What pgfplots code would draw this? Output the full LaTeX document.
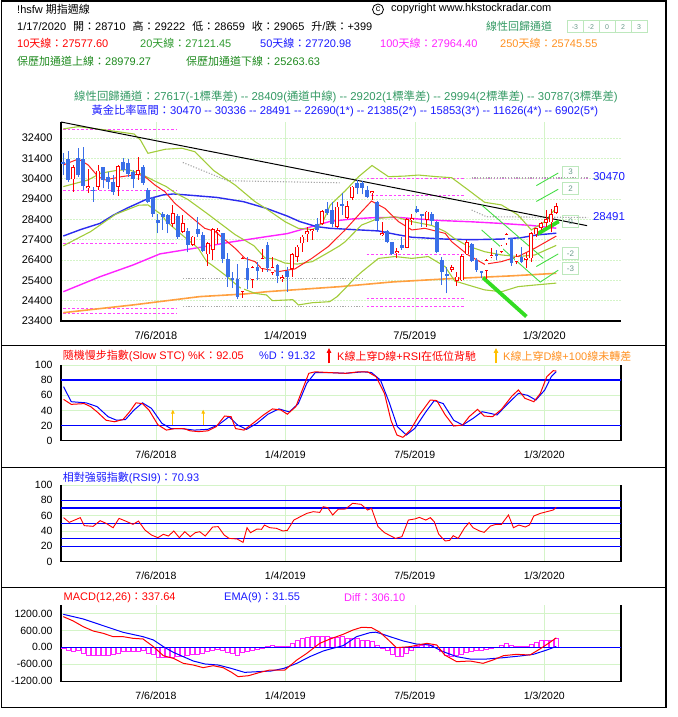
\documentclass[border=0pt]{standalone}
\usepackage{fontspec}
\setmainfont{Liberation Sans}
\newfontfamily\cjfont{Noto Sans CJK TC}
\newcommand{\cj}[1]{{\cjfont #1}}
\usepackage{pgfplots}
\pgfplotsset{compat=1.18}
\usepackage{pgfplotstable}
\usetikzlibrary{arrows.meta}

\definecolor{cred}{HTML}{FF0000}
\definecolor{cblue}{HTML}{3A6FE8}
\definecolor{maten}{HTML}{FF2020}
\definecolor{olivel}{HTML}{A2CC3A}
\definecolor{ma50}{HTML}{2B2BEE}
\definecolor{magen}{HTML}{FF22FF}
\definecolor{orng}{HTML}{FFA040}
\definecolor{gridg}{HTML}{D4F4C8}
\definecolor{tgreen}{HTML}{2E9A2E}
\definecolor{dgreen}{HTML}{1E8A1E}
\definecolor{tteal}{HTML}{349A64}
\definecolor{tblue}{HTML}{1A1AFF}
\definecolor{lgreen}{HTML}{44DD44}
\definecolor{tgreenthick}{HTML}{33DD22}
\definecolor{boxg}{HTML}{BDE8BD}
\definecolor{boxt}{HTML}{6A9A8A}
\definecolor{gold}{HTML}{FFC000}
\definecolor{ttorange}{HTML}{FF9020}
\definecolor{dotgray}{HTML}{A8A8A8}
\definecolor{fibmag}{HTML}{FF44FF}

\pgfplotstableread{
k O H L C
2 30370 31080 29760 30960
5 29930 30860 29710 30040
7 29980 31080 29850 30800
11 30010 31080 29570 31040
15 30580 31490 30340 30830
22 28160 29110 28040 28700
24 27800 28620 27710 28210
26 27140 27600 27100 27550
29 26680 27300 26120 27220
30 26890 27990 26400 27930
31 27760 27990 27200 27880
36 24840 26570 24550 26480
38 25420 26120 25000 26070
40 25990 26940 25830 26480
42 25750 26570 25660 26070
44 25450 25660 25340 25550
46 25960 26730 25580 26680
47 26570 27140 26320 27060
48 27220 27630 26810 27550
49 27660 28040 27300 27830
50 27810 27930 27390 27910
52 28160 28860 28130 28810
55 28040 29270 27990 29030
57 28480 29300 28420 29070
58 29440 30060 29350 30010
62 29680 29810 29350 29800
64 27610 28250 27600 27710
67 26740 26980 26480 26840
69 27010 28450 26980 28420
70 28350 28650 28120 28450
73 28370 28800 28040 28780
78 25910 26160 25830 26070
79 25370 25830 25140 25580
80 25400 26680 25370 26610
81 26680 27390 26650 27300
85 25860 26450 25480 26400
86 26530 26980 26480 26650
88 26780 27140 26730 27110
89 27220 27710 27140 27660
91 26290 26680 26190 26570
93 26420 26730 25990 26520
94 26480 27800 26320 27710
95 27660 27990 27550 27960
96 27990 28250 27880 28210
97 28210 28860 28040 28420
98 28250 28910 27800 28666
99 28710 29222 28659 29065
}\upc

\pgfplotstableread{
k O H L C
0 31210 31650 30580 31110
1 31350 31780 30250 30340
3 31400 31930 30500 30600
4 31350 31950 29850 30060
6 29850 30010 29270 29800
8 30960 31000 29930 30340
9 30500 30750 29890 30260
10 30260 30580 29600 29730
12 31240 31440 30710 30830
13 31150 31350 30500 30640
14 30750 30830 29930 30370
16 30990 31050 30090 30170
17 29850 29930 29190 29240
18 29430 29520 28530 28660
19 28370 28650 27710 28210
20 28660 28750 27880 28530
21 28610 28650 27710 28160
23 28580 28650 27430 27550
25 27830 27960 26780 27140
27 27930 28530 27550 27660
28 27630 27760 26780 26840
32 27710 27750 26240 26450
33 26450 26730 25090 25580
34 25500 25830 25040 25420
35 25450 26190 24480 24600
37 25990 26570 24970 25420
39 26070 26320 25420 25860
41 27140 27300 25830 25990
43 26150 26190 25250 25630
45 25860 26070 24840 25580
51 28160 28450 27800 27880
53 28910 29270 28620 28700
54 28860 29240 28040 28160
56 29140 29680 28620 29040
59 30170 30340 29630 29930
60 30170 30290 29630 29930
61 29850 30060 29440 29520
63 29270 29300 27880 28320
65 27830 27880 27220 27270
66 27270 27300 26650 26680
68 27140 27550 26890 27010
71 28910 29070 28700 28750
72 28680 28680 28040 28560
74 28650 28750 28120 28320
75 28290 28320 26730 26780
76 26400 26570 25170 25830
77 25700 26070 24760 25600
82 27170 27220 26320 26350
83 26400 26480 25830 25910
84 25860 25860 25500 25760
87 26700 26890 26400 26600
90 27470 27500 26120 26240
92 26570 27060 26240 26290
}\dnc

\pgfplotsset{
  hk/.style={
    scale only axis, anchor=south west, width=560pt, clip=false,
    xmin=-0.46, xmax=112,
    axis line style={draw=none},
    tick style={draw=none},
    scaled ticks=false,
    xtick={18.6,44.6,70.6,96.6},
    xticklabels={7/6/2018,1/4/2019,7/5/2019,1/3/2020},
    xmajorgrids, ymajorgrids,
    grid style={gridg, line width=0.7pt},
    /pgf/number format/assume math mode=true,
    /pgf/number format/1000 sep={},
    tick label style={font=\fontsize{10.5}{12}\selectfont},
    xticklabel style={yshift=-7pt},
    yticklabel style={xshift=-5pt},
  },
  hline/.style={forget plot, mark=none},
}

\begin{document}
\begin{tikzpicture}[x=1pt,y=1pt,font=\fontsize{11}{13}\selectfont]
\path[use as bounding box] (0,0) rectangle (677,717);
\draw[line width=1.2pt] (1.5,9.3) rectangle (666,716);
\draw[line width=1.2pt] (1.5,371.5) -- (666,371.5);
\draw[line width=1.2pt] (1.5,249.3) -- (666,249.3);
\draw[line width=1.2pt] (1.5,129.3) -- (666,129.3);

% ---------- header ----------
\node[anchor=west, inner sep=0] at (17,708) {!hsfw \cj{期指週線}};
\node[circle, draw, line width=0.8pt, inner sep=0pt, minimum size=11pt, font=\fontsize{9}{10}\selectfont] at (378,707.5) {c};
\node[anchor=west, inner sep=0] at (391,708) {copyright www.hkstockradar.com};
\node[anchor=west, inner sep=0] at (17,691) {1/17/2020\hspace{7pt}\cj{開：}28710\hspace{7pt}\cj{高：}29222\hspace{7pt}\cj{低：}28659\hspace{7pt}\cj{收：}29065\hspace{7pt}\cj{升}/\cj{跌：}+399};
\node[anchor=west, inner sep=0, text=tteal] at (486,691) {\cj{線性回歸通道}};
\foreach \i/\t in {0/-3,1/-2,2/0,3/2,4/3}{
  \draw[boxg, line width=0.8pt] (567+16*\i,684.3) rectangle (583+16*\i,696.3);
  \node[text=boxt, font=\fontsize{7}{8}\selectfont, inner sep=0] at (575+16*\i,690.3) {\t};
}
\node[anchor=west, inner sep=0, text=cred] at (17,673.3) {10\cj{天線：}27577.60};
\node[anchor=west, inner sep=0, text=tgreen] at (140,673.3) {20\cj{天線：}27121.45};
\node[anchor=west, inner sep=0, text=tblue] at (260,673.3) {50\cj{天線：}27720.98};
\node[anchor=west, inner sep=0, text=magen] at (380,673.3) {100\cj{天線：}27964.40};
\node[anchor=west, inner sep=0, text=ttorange] at (500,673.3) {250\cj{天線：}25745.55};
\node[anchor=west, inner sep=0, text=dgreen] at (17,656) {\cj{保歷加通道上線：}28979.27};
\node[anchor=west, inner sep=0, text=dgreen] at (186,656) {\cj{保歷加通道下線：}25263.63};
\node[inner sep=0, text=tteal, font=\fontsize{11.4}{13}\selectfont] at (346,620.3) {\cj{線性回歸通道：}27617(-1\cj{標準差}) -{}- 28409(\cj{通道中線}) -{}- 29202(1\cj{標準差}) -{}- 29994(2\cj{標準差}) -{}- 30787(3\cj{標準差})};
\node[inner sep=0, text=tblue, font=\fontsize{11.2}{13}\selectfont] at (345,606) {\cj{黃金比率區間：}30470 -{}- 30336 -{}- 28491 -{}- 22690(1*) -{}- 21385(2*) -{}- 15853(3*) -{}- 11626(4*) -{}- 6902(5*)};

% ---------- main price panel ----------
\begin{axis}[hk, at={(61pt,396pt)}, height=199pt,
  ymin=23400, ymax=33190, ytick={23400,24400,...,32400},
  tick label style={font=\fontsize{11}{13}\selectfont},
  every axis y grid/.append style={dash pattern=on 1.5pt off 1.5pt}]
\draw[black, line width=1.2pt] (rel axis cs:0,1) -- (rel axis cs:0,0) -- (rel axis cs:1,0);
% fib / golden dashed levels
\addplot[hline, fibmag, line width=0.9pt, dash pattern=on 2.5pt off 2pt] coordinates {(0,32800)(22.8,32800)};
\addplot[hline, fibmag, line width=0.9pt, dash pattern=on 2.5pt off 2pt] coordinates {(0,29845)(22.8,29845)};
\addplot[hline, fibmag, line width=0.9pt, dash pattern=on 2.5pt off 2pt] coordinates {(0,27221)(22.8,27221)};
\addplot[hline, fibmag, line width=0.9pt, dash pattern=on 2.5pt off 2pt] coordinates {(0,24023)(22.8,24023)};
\addplot[hline, fibmag, line width=0.9pt, dash pattern=on 2.5pt off 2pt] coordinates {(0,23777)(22.8,23777)};
\addplot[hline, fibmag, line width=0.9pt, dash pattern=on 2.5pt off 2pt] coordinates {(60.9,30420)(80.7,30420)};
\addplot[hline, fibmag, line width=0.9pt, dash pattern=on 2.5pt off 2pt] coordinates {(60.9,29600)(80.7,29600)};
\addplot[hline, fibmag, line width=0.9pt, dash pattern=on 2.5pt off 2pt] coordinates {(60.9,26650)(80.7,26650)};
\addplot[hline, fibmag, line width=0.9pt, dash pattern=on 2.5pt off 2pt] coordinates {(60.9,24520)(80.7,24520)};
\addplot[hline, fibmag, line width=0.9pt, dash pattern=on 2.5pt off 2pt] coordinates {(60.9,24140)(80.7,24140)};
% gray dotted levels
\addplot[hline, dotgray, line width=1.1pt, dash pattern=on 1.2pt off 1.6pt] coordinates {(24,31200)(33,30300)(55.5,30200)};
\addplot[hline, dotgray, line width=1.1pt, dash pattern=on 1.2pt off 1.6pt] coordinates {(24,25500)(60,25500)};
\addplot[hline, dotgray, line width=1.1pt, dash pattern=on 1.2pt off 1.6pt] coordinates {(24,24105)(60,24105)};
\addplot[hline, dotgray, line width=1.1pt, dash pattern=on 1.2pt off 1.6pt] coordinates {(82,30470)(105.4,30470)};
\addplot[hline, fibmag!50!dotgray, line width=1.1pt, dash pattern=on 1.2pt off 1.6pt] coordinates {(82,30400)(105.4,30400)};
\addplot[hline, dotgray, line width=1.1pt, dash pattern=on 1.2pt off 1.6pt] coordinates {(82,28860)(85,28530)(105.4,28491)};
% moving averages and bands
\addplot[hline, orng, line width=1.6pt] coordinates {(0,23810)(14,24190)(27.4,24600)(36.5,24730)(40.8,24840)(55.6,25090)(66,25320)(76.7,25470)(90,25620)(99,25746)};
\addplot[hline, magen, line width=1.4pt] coordinates {(0,24840)(7.4,25580)(14,26155)(19.4,26700)(27.4,27020)(34.1,27300)(40.8,27550)(45,27700)(50,28050)(53.6,28300)(58,28420)(62,28480)(67,28500)(75,28350)(82,28280)(88,28200)(94,28100)(99,27964)};
\addplot[hline, ma50, line width=1.4pt] coordinates {(0,27580)(3.5,27900)(7.4,28205)(10,28600)(12.7,28940)(16.7,29386)(20,29600)(22.1,29650)(24.8,29600)(30.8,29480)(36.2,29270)(40.8,28940)(44.9,28570)(47.5,28290)(50.9,28040)(53.6,27960)(58,27900)(63.3,27830)(67,27650)(70,27520)(76.7,27430)(82,27400)(88,27430)(92,27500)(95,27630)(99,27721)};
\addplot[hline, olivel, line width=1.1pt] coordinates {(0,32850)(3,32960)(8.4,32800)(14.2,32600)(15.5,32300)(17,31650)(20.5,31850)(23.8,31900)(26.4,31730)(30.2,30800)(34.5,30090)(38.5,29270)(40.6,28950)(44.5,28290)(47.2,27960)(50,27900)(52,28200)(53.6,29100)(56.6,29800)(59.3,30500)(62,31050)(65.3,30500)(68.6,30530)(71.3,30580)(75,30500)(78,30450)(81.3,29850)(84.6,29240)(88,29110)(91.3,28620)(94,27880)(96.7,28290)(99,28979)};
\addplot[hline, olivel, line width=1.1pt] coordinates {(0,30010)(5,30340)(7.5,30670)(10.5,30800)(13,30850)(15.5,30650)(18,30330)(20.7,30010)(22.5,29700)(25,29380)(28.6,28740)(31.8,28150)(34.5,27650)(38.3,27100)(40.5,26500)(42.5,26450)(44.5,26250)(47,26200)(50,26320)(53.5,26810)(55.5,27100)(56.6,27300)(59.9,28120)(63.3,28450)(66.6,28530)(70,28290)(74,28100)(76.7,27800)(78.6,27450)(81.3,27080)(84.6,26810)(88,26650)(91.3,26570)(94.7,26650)(99,27121)};
\addplot[hline, olivel, line width=1.1pt] coordinates {(0,27100)(5.5,27800)(10.5,28650)(15.2,29100)(17,29110)(19.8,28620)(20.7,28300)(24,27600)(27.1,26980)(28.8,26320)(29.8,26160)(32.5,25660)(35.4,25050)(38.5,24760)(40.8,24680)(42,24400)(46.1,24450)(47.2,24190)(50,24300)(53.5,24350)(55,24600)(56.6,25000)(58.5,25500)(60,25830)(63.3,26480)(66.6,26570)(70,26480)(73.3,26570)(76.7,26070)(78.6,25370)(81.3,25170)(84.6,24930)(88,24840)(91.3,25090)(94.7,25170)(99,25264)};
\addplot[hline, maten, line width=1pt] coordinates {(0,31075)(3,31370)(5,31075)(7,30500)(8.4,30340)(11.7,30500)(15.1,30620)(16.4,30500)(18.4,30090)(20.4,29760)(22.4,29190)(24.4,28780)(26.4,28370)(28.4,27960)(30.5,27800)(32.5,27390)(34.5,26980)(36.5,26480)(38.5,26320)(39.8,25990)(43.2,25830)(46.5,25960)(49.9,26480)(53.2,27060)(56.6,27880)(59.9,28780)(61.9,29300)(64.6,28940)(67.3,28290)(70,27880)(72.6,27960)(76.7,27710)(78,27300)(81.3,26650)(84.6,26190)(88,26320)(91.3,26570)(94.7,26980)(99,27578)};
% trend line
\addplot[hline, black, line width=1pt] coordinates {(-0.46,33190)(105.2,28090)};
% regression channel lines
\addplot[hline, lgreen, line width=0.9pt] coordinates {(84,29110)(96.4,26480)};
\addplot[hline, lgreen, line width=0.9pt] coordinates {(84,27880)(95.7,25330)};
\addplot[hline, lgreen, line width=0.9pt] coordinates {(95,30060)(99.4,30680)};
\addplot[hline, lgreen, line width=0.9pt] coordinates {(95,29280)(99.4,29880)};
\addplot[hline, lgreen, line width=0.9pt] coordinates {(95,26080)(99.4,26700)};
\addplot[hline, lgreen, line width=0.9pt] coordinates {(95.7,25300)(99.4,25900)};
\addplot[hline, tgreenthick, line width=3.8pt] coordinates {(84.3,25530)(93,23620)};
\addplot[hline, tgreenthick, line width=3.8pt] coordinates {(95.2,27680)(99.5,28300)};
% candles
\addplot[hline, cblue, line width=0.9pt, quiver={u=0,v=\thisrow{H}-\thisrow{L}}] table[x=k,y=L]{\dnc};
\addplot[hline, cblue, line width=3.8pt, quiver={u=0,v=\thisrow{C}-\thisrow{O}}] table[x=k,y=O]{\dnc};
\addplot[hline, cred, line width=0.9pt, quiver={u=0,v=\thisrow{H}-\thisrow{L}}] table[x=k,y=L]{\upc};
\addplot[hline, cred, line width=3.8pt, quiver={u=0,v=\thisrow{C}-\thisrow{O}}] table[x=k,y=O]{\upc};
\addplot[hline, white, line width=2.2pt, shorten >=0.8pt, shorten <=0.8pt, quiver={u=0,v=\thisrow{C}-\thisrow{O}}] table[x=k,y=O]{\upc};
\end{axis}

% channel boxes and labels
\foreach \yy/\t in {544.8/3,528.2/2,495.7/0,463.7/-2,448.7/-3}{
  \draw[boxg, line width=0.8pt] (562.7,\yy-6) rectangle (578.3,\yy+6);
  \node[text=boxt, font=\fontsize{8}{9}\selectfont, inner sep=0] at (570.5,\yy) {\t};
}
\node[text=tblue, inner sep=0, font=\fontsize{11.5}{13}\selectfont] at (609,540.3) {30470};
\node[text=tblue, inner sep=0, font=\fontsize{11.5}{13}\selectfont] at (609,500.3) {28491};

% ---------- stochastic ----------
\node[anchor=west, inner sep=0, text=cred] at (62.7,361) {\cj{隨機慢步指數}(Slow STC) \%K\cj{：}92.05};
\node[anchor=west, inner sep=0, text=tblue] at (259,361) {\%D\cj{：}91.32};
\draw[cred, line width=1.1pt, -{Triangle[length=5pt,width=4.5pt]}] (329,353.5) -- (329,369);
\node[anchor=west, inner sep=0, text=cred] at (337,361) {K\cj{線上穿}D\cj{線}+RSI\cj{在低位背馳}};
\draw[gold, line width=1.1pt, -{Triangle[length=5pt,width=4.5pt]}] (496,353.5) -- (496,369);
\node[anchor=west, inner sep=0, text=ttorange] at (503,361) {K\cj{線上穿}D\cj{線}+100\cj{線未轉差}};
\begin{axis}[hk, at={(61pt,276.3pt)}, height=75.7pt, ymin=0, ymax=100, ytick={0,20,...,100}]
\draw[black, line width=1.2pt] (rel axis cs:0,1) -- (rel axis cs:0,0) -- (rel axis cs:1,0) -- (rel axis cs:1,1);
\addplot[hline, blue, line width=1.3pt] coordinates {(-0.46,20)(112,20)};
\addplot[hline, blue, line width=1.3pt] coordinates {(-0.46,80)(112,80)};
\addplot[hline, gold, line width=1pt, -{Triangle[length=4pt,width=3.5pt]}] coordinates {(22,20.5)(22,41)};
\addplot[hline, gold, line width=1pt, -{Triangle[length=4pt,width=3.5pt]}] coordinates {(28.1,20.5)(28.1,41)};
\addplot[hline, blue, line width=1pt] coordinates {(0.05,71.4)(1.6,51.5)(4.6,50)(6.8,45)(9,31.7)(10.7,27)(12.5,28)(14.2,40.5)(15.9,50)(17.7,42.7)(19.8,23)(21.6,16)(23.7,16)(26.3,14)(29,15)(31.1,20.7)(33.3,31.7)(35,20.7)(36.8,15)(38.9,23)(41.1,35)(43.3,42)(45.4,38)(47.2,49)(48.9,75.8)(50.6,90)(53.3,90)(56.7,89)(60.2,91)(61.9,90)(63.7,80)(65.4,51.5)(67.1,18.5)(68.9,7.5)(70.6,16.3)(72.8,38)(74.5,53)(76.3,49)(78.4,27)(80.2,20.7)(82.3,29.5)(84.1,38.3)(85.8,36)(87.1,34)(89.3,49)(91.4,62.5)(93.2,60)(94.9,53.7)(96.7,67)(98,84.6)(99,91.32)};
\addplot[hline, cred, line width=1pt] coordinates {(0.05,54.6)(1.6,48)(4.2,49)(5.5,45)(6.8,38)(8.6,27)(10.3,25)(12,28)(13.3,38)(14.6,50)(15.9,49)(17.2,40.5)(19,21)(20.7,14)(22.4,16)(24.2,16)(25.5,13)(27.2,12)(29,13)(30.7,18.5)(32.4,32.6)(33.7,31.7)(34.6,16)(36.3,14)(38.5,25)(40.2,34)(42,42)(43.7,40.5)(45,35)(46.7,45)(48,67)(49.3,89)(50.6,91)(53.3,90)(56.7,89)(59.3,91)(61.1,91)(62.8,84.6)(64.5,62.5)(65.8,27)(67,7.5)(68.2,4.4)(69.7,14)(71.5,34)(73.7,53.7)(75,53)(76.7,34)(78.4,19.4)(80.2,20.7)(81.5,31.7)(83.2,41.4)(84.5,32.6)(86.2,31.7)(88,41.4)(90.1,59)(91.4,67)(92.7,56)(94.5,51.5)(95.8,62.5)(97.1,84.6)(98.4,92.5)(99,92.05)};
\end{axis}

% ---------- RSI ----------
\node[anchor=west, inner sep=0, text=tblue] at (62.7,239.3) {\cj{相對強弱指數}(RSI9)\cj{：}70.93};
\begin{axis}[hk, at={(61pt,155.3pt)}, height=76.7pt, ymin=0, ymax=100, ytick={0,20,...,100}]
\draw[black, line width=1.2pt] (rel axis cs:0,1) -- (rel axis cs:0,0) -- (rel axis cs:1,0) -- (rel axis cs:1,1);
\addplot[hline, blue, line width=1.3pt] coordinates {(-0.46,20)(112,20)};
\addplot[hline, blue, line width=1.3pt] coordinates {(-0.46,30)(112,30)};
\addplot[hline, blue, line width=1.3pt] coordinates {(-0.46,50)(112,50)};
\addplot[hline, blue, line width=1.3pt] coordinates {(-0.46,70)(112,70)};
\addplot[hline, blue, line width=1.3pt] coordinates {(-0.46,80)(112,80)};
\addplot[hline, cred, line width=0.9pt] coordinates {(0.05,57.4)(1.2,51.3)(3.4,57.4)(4.2,47)(6,46.1)(7.4,53.5)(8.6,50)(10,44.3)(11.2,56.5)(12.5,53)(14,48.7)(15.1,53)(16.4,41.3)(17.7,34.8)(19,31.3)(20.1,35.7)(21.1,33.5)(22.2,40)(23.3,31.3)(24.4,39.1)(25.5,32.6)(26.5,37.8)(27.4,39.1)(28.5,33.5)(30,45.2)(31.1,45.7)(32.3,34.8)(33.3,30.4)(34.9,29.6)(36.1,25.2)(36.9,44.3)(37.6,37.8)(38.9,42.6)(39.8,42.2)(40.4,47.8)(41.5,44.3)(42.8,43.5)(44.1,40)(45,40.9)(46.3,54.3)(47.6,58.7)(48.9,63)(50.2,65.2)(51.5,64.3)(52.2,71.7)(53.1,70.4)(54.1,60.9)(55.2,68.3)(56.7,68.7)(58.1,76.1)(59.8,74.8)(61.1,67.4)(61.9,69.6)(63.2,45.7)(64.5,37.8)(65.8,33.5)(66.7,30.4)(68,32.6)(69.3,54.3)(70.6,55.7)(71.5,57.8)(72.8,54.3)(73.7,57.4)(74.5,52.2)(75.4,35.7)(76.7,27)(77.6,27.8)(78.3,33.9)(79.3,30.4)(80.6,44.3)(81.5,50.9)(82.3,44.3)(83.6,40)(84.5,38.3)(85.8,46.5)(86.9,48.7)(88,48.7)(89.4,60.9)(90.4,44.3)(91.5,47.8)(92.8,45.2)(93.6,47.8)(94.5,59.6)(95.8,63)(97.1,65.2)(98.4,67.4)(99,70.9)};
\end{axis}

% ---------- MACD ----------
\node[anchor=west, inner sep=0, text=cred] at (63.5,119.7) {MACD(12,26)\cj{：}337.64};
\node[anchor=west, inner sep=0, text=tblue] at (224,119.7) {EMA(9)\cj{：}31.55};
\node[anchor=west, inner sep=0, text=magen] at (344,119.7) {Diff\cj{：}306.10};
\begin{axis}[hk, at={(61pt,35.3pt)}, height=76.7pt, ymin=-1226, ymax=1510,
  ytick={-1200,-600,0,600,1200},
  yticklabel style={/pgf/number format/.cd, fixed, fixed zerofill, precision=2, 1000 sep={}}]
\draw[black, line width=1.2pt] (rel axis cs:0,1) -- (rel axis cs:0,0) -- (rel axis cs:1,0) -- (rel axis cs:1,1);
\addplot[hline, ybar, bar width=0.8, draw=magen, fill=none, line width=0.8pt] coordinates {
(0,-36)(1,-95)(2,-131)(3,-95)(4,-214)(5,-274)(6,-298)(7,-274)(8,-274)(9,-274)(10,-250)(11,-214)(12,-155)(13,-155)(14,-131)(15,-131)(16,-95)(17,-214)(18,-250)(19,-357)(20,-357)(21,-357)(22,-357)(23,-333)(24,-309)(25,-274)(26,-250)(27,-250)(28,-214)(29,-155)(30,-95)(31,-60)(32,-95)(33,-178)(34,-214)(35,-274)(36,-178)(37,-131)(38,-95)(39,-60)(40,-36)(41,48)(42,83)(43,24)(44,24)(45,24)(46,143)(47,262)(48,321)(49,345)(50,381)(51,381)(52,405)(53,405)(54,370)(55,370)(56,381)(57,321)(58,321)(59,321)(60,262)(61,262)(62,226)(63,83)(64,-36)(65,-95)(66,-250)(67,-333)(68,-333)(69,-214)(70,-95)(71,24)(72,83)(73,107)(74,83)(75,-12)(76,-131)(77,-274)(78,-333)(79,-298)(80,-250)(81,-178)(82,-131)(83,-95)(84,-95)(85,-60)(86,-36)(87,10)(88,83)(89,143)(90,60)(91,48)(92,24)(93,24)(94,107)(95,179)(96,238)(97,262)(98,262)(99,306)};
\addplot[hline, blue, line width=1.3pt] coordinates {(-0.46,0)(112,0)};
\addplot[hline, blue, line width=1pt] coordinates {(0,1178)(4,1012)(8,773)(12,536)(16,381)(18.1,262)(20.1,24)(22.1,-178)(24.1,-333)(26.1,-488)(28.5,-595)(31.1,-631)(33.7,-750)(36.4,-893)(39,-869)(41.7,-845)(44.3,-750)(46.9,-571)(49.5,-333)(52.2,-131)(53.6,-60)(56.2,60)(58.9,381)(61.6,524)(62.7,540)(63.6,500)(65.6,381)(68.3,226)(70.9,119)(73.6,83)(76.3,-155)(79,-333)(81.7,-417)(85,-417)(88.4,-369)(91.7,-310)(94.4,-250)(97.1,-95)(99,32)};
\addplot[hline, cred, line width=1pt] coordinates {(0,1095)(2,940)(4,738)(6,583)(8,500)(10,381)(12,381)(14,321)(16,298)(18.1,24)(20.1,-298)(22.1,-393)(24.1,-571)(26.1,-631)(28.1,-726)(30.1,-655)(32.1,-726)(33.8,-893)(35.1,-1047)(37.2,-1012)(39.5,-893)(41.5,-809)(44.5,-809)(46.9,-452)(48.9,-214)(51.5,143)(53.6,298)(56.2,464)(58.2,619)(59.9,714)(61.9,702)(63.6,536)(65.3,262)(66.9,-12)(69.6,24)(73,143)(75,83)(76.6,-274)(79,-512)(81.7,-488)(84.3,-571)(86.3,-452)(88.4,-298)(91,-250)(93.7,-274)(95.7,-60)(97.5,150)(99,338)};
\end{axis}
\end{tikzpicture}
\end{document}
